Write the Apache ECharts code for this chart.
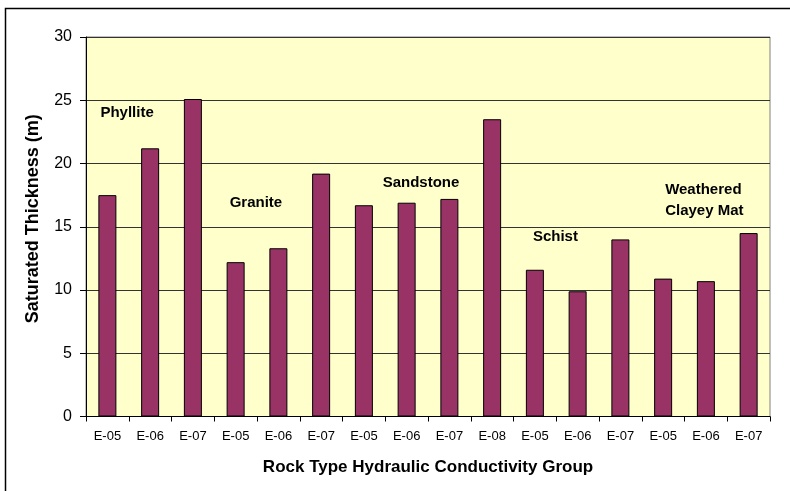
<!DOCTYPE html>
<html>
<head>
<meta charset="utf-8">
<script src="https://cdn.jsdelivr.net/npm/echarts@6/dist/echarts.min.js"></script>
<style>
  html, body { margin: 0; padding: 0; background: #ffffff; }
  #chart { width: 790px; height: 491px; }
</style>
</head>
<body>
<div id="chart"></div>
<script>
// Conductivity class of each bar, grouped by rock type
const categories = ['E-05', 'E-06', 'E-07', 'E-05', 'E-06', 'E-07', 'E-05', 'E-06', 'E-07', 'E-08',
                    'E-05', 'E-06', 'E-07', 'E-05', 'E-06', 'E-07'];
// Saturated thickness in metres
const thickness = [17.5, 21.2, 25.1, 12.2, 13.3, 19.2, 16.7, 16.9, 17.2, 23.5,
                   11.6, 9.9, 14.0, 10.9, 10.7, 14.5];
const yTicks = [0, 5, 10, 15, 20, 25, 30];

// Rock type group labels: text, anchor category index, anchor value, horizontal nudge
const groupNames = ['Phyllite', 'Granite', 'Sandstone', 'Schist', 'Weathered\nClayey Mat'];
const groupCats = [0, 3, 7, 10, 13];
const groupVals = [24.0, 16.9, 18.5, 14.2, 17.1];
const groupNudge = [-7, -6, -24, -2, 2];

const FONT = '"Liberation Sans", Arial, sans-serif';

const chart = echarts.init(document.getElementById('chart'), null, { renderer: 'canvas' });

chart.setOption({
  animation: false,
  backgroundColor: '#ffffff',
  textStyle: { fontFamily: FONT, color: '#000' },
  graphic: [{
    type: 'rect',
    shape: { x: 5.5, y: 8.5, width: 800, height: 500 },
    style: { fill: 'none', stroke: '#000', lineWidth: 1.5 },
    silent: true,
    z: -1
  }],
  grid: {
    left: 86, top: 37, right: 20, bottom: 74.5,
    show: true,
    backgroundColor: '#ffffcc',
    borderColor: '#808080',
    borderWidth: 1
  },
  xAxis: {
    type: 'category',
    data: categories,
    name: 'Rock Type Hydraulic Conductivity Group',
    nameLocation: 'middle',
    nameGap: 42,
    nameTextStyle: { fontFamily: FONT, fontWeight: 'bold', fontSize: 17, color: '#000' },
    axisLine: { lineStyle: { color: '#000', width: 1 } },
    axisTick: { show: true, alignWithLabel: false, length: 5, lineStyle: { color: '#000' } },
    axisLabel: { fontFamily: FONT, fontSize: 13, color: '#000', margin: 13, interval: 0 }
  },
  yAxis: {
    type: 'value',
    min: yTicks[0],
    max: yTicks[yTicks.length - 1],
    interval: 5,
    name: 'Saturated Thickness (m)',
    nameLocation: 'middle',
    nameGap: 44,
    nameTextStyle: { fontFamily: FONT, fontWeight: 'bold', fontSize: 18, color: '#000', padding: [0, 0, 0, 16] },
    axisLine: { show: true, lineStyle: { color: '#000', width: 1 } },
    axisTick: { show: true, length: 6, lineStyle: { color: '#000' } },
    axisLabel: { fontFamily: FONT, fontSize: 16, color: '#000', margin: 14 },
    splitLine: { show: true, lineStyle: { color: '#333', width: 1.2 } }
  },
  series: [{
    type: 'bar',
    data: thickness,
    barWidth: 18,
    itemStyle: { color: '#993366', borderColor: '#000', borderWidth: 1 },
    markPoint: {
      symbol: 'rect',
      symbolSize: 0,
      silent: true,
      label: {
        show: true,
        position: 'inside',
        align: 'left',
        verticalAlign: 'middle',
        fontFamily: FONT,
        fontWeight: 'bold',
        fontSize: 15,
        lineHeight: 21,
        color: '#000'
      },
      data: groupNames.map((name, i) => ({
        coord: [groupCats[i], groupVals[i]],
        value: name,
        label: { formatter: name, offset: [groupNudge[i], 0] }
      }))
    }
  }]
});
</script>
</body>
</html>
